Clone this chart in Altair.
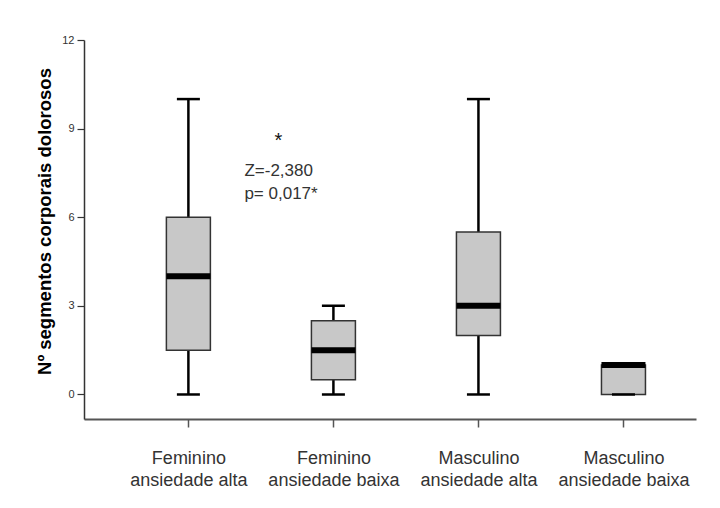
import altair as alt
import pandas as pd

categories = ["Feminino|ansiedade alta", "Feminino|ansiedade baixa",
              "Masculino|ansiedade alta", "Masculino|ansiedade baixa"]
mins = [0, 0, 0, 0]
q1s = [1.5, 0.5, 2, 0]
medians = [4, 1.5, 3, 1]
q3s = [6, 2.5, 5.5, 1]
maxs = [10, 3, 10, 1]
y_ticks = [0, 3, 6, 9, 12]

ann_cat = ["Feminino|ansiedade baixa"] * 3
ann_y = [8.72, 7.58, 6.77]
ann_text = ["*", "Z=-2,380", "p= 0,017*"]

df = pd.DataFrame({"cat": categories, "mn": mins, "q1": q1s, "md": medians,
                   "q3": q3s, "mx": maxs})
ann = pd.DataFrame({"cat": ann_cat, "y": ann_y, "t": ann_text})

FONT = "Liberation Sans"

x = alt.X("cat:N", sort=categories,
          scale=alt.Scale(type="point", padding=0.61, align=0.59),
          axis=alt.Axis(title=None, labelExpr="split(datum.label, '|')",
                        labelFontSize=18, labelColor="#333333", labelFont=FONT,
                        labelLineHeight=22, labelPadding=22, labelAngle=0,
                        tickSize=8, tickColor="#555555", tickWidth=1.5,
                        domainColor="#555555", domainWidth=2, grid=False))
yscale = alt.Scale(domain=[-0.83, 12], nice=False, zero=False)
yaxis = alt.Axis(title="Nº segmentos corporais dolorosos", values=y_ticks,
                 titleFontSize=18.5, titleFontWeight="bold", titleColor="#000000",
                 titleFont=FONT, titleAngle=270, titleX=-40, titleY=181,
                 titleAlign="center", titleBaseline="middle",
                 labelFontSize=11, labelColor="#333333", labelFont=FONT,
                 labelPadding=3, tickSize=7, tickColor="#333333", tickWidth=1.2,
                 domainColor="#333333", domainWidth=1.5, grid=False)

base = alt.Chart(df)

lower = base.mark_rule(color="black", strokeWidth=2.5).encode(
    x=x, y=alt.Y("mn:Q", scale=yscale, axis=yaxis), y2="q1:Q")
upper = base.mark_rule(color="black", strokeWidth=2.5).encode(
    x=x, y=alt.Y("q3:Q", scale=yscale), y2="mx:Q")
box = base.mark_bar(size=44, fill="#c8c8c8", stroke="#333333",
                    strokeWidth=1.5).encode(
    x=x, y=alt.Y("q1:Q", scale=yscale), y2="q3:Q")
median = base.mark_tick(size=44, thickness=6, color="black", opacity=1).encode(
    x=x, y=alt.Y("md:Q", scale=yscale))
cap_lo = base.mark_tick(size=23, thickness=2.5, color="black", opacity=1).encode(
    x=x, y=alt.Y("mn:Q", scale=yscale))
cap_hi = base.mark_tick(size=23, thickness=2.5, color="black", opacity=1).encode(
    x=x, y=alt.Y("mx:Q", scale=yscale))

star = alt.Chart(ann.iloc[[0]]).mark_text(
    font=FONT, fontSize=20, color="#111111",
    align="center", baseline="middle", dx=-55, dy=4).encode(
    x=x, y=alt.Y("y:Q", scale=yscale), text="t:N")
stats = alt.Chart(ann.iloc[1:]).mark_text(
    font=FONT, fontSize=17, color="#333333",
    align="left", baseline="middle", dx=-89).encode(
    x=x, y=alt.Y("y:Q", scale=yscale), text="t:N")

chart = alt.layer(lower, upper, box, median, cap_lo,
                  cap_hi, star, stats).properties(
    width=612, height=379,
    autosize=alt.AutoSizeParams(type="none"),
    padding={"left": 76, "top": 32, "right": 16, "bottom": 95},
).configure(font=FONT).configure_view(stroke="transparent", strokeWidth=0)

chart.save("out.html", embed_options={"renderer": "svg", "actions": False})
